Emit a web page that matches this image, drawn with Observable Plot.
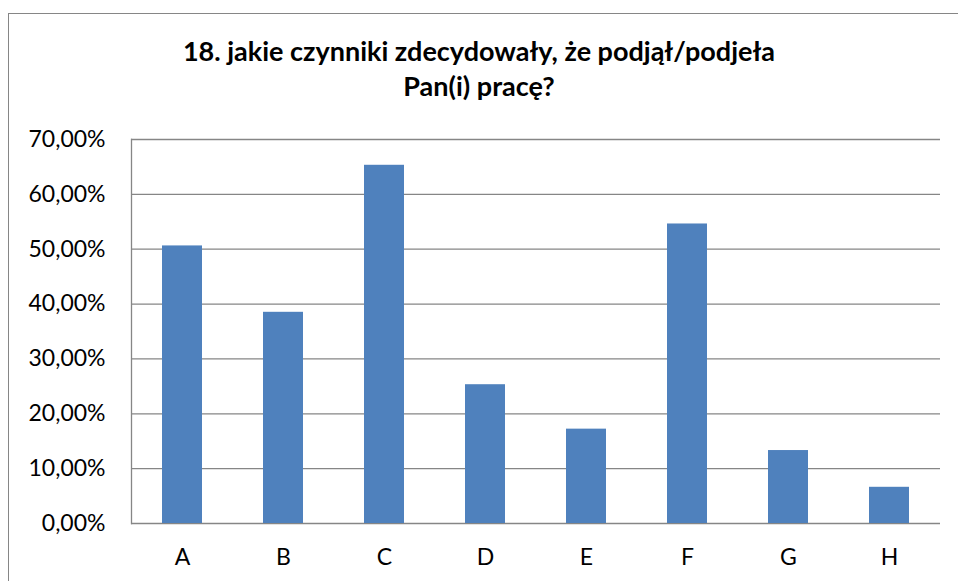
<!DOCTYPE html>
<html>
<head>
<meta charset="utf-8">
<script src="https://cdn.jsdelivr.net/npm/d3@7"></script>
<script src="https://cdn.jsdelivr.net/npm/@observablehq/plot@0.6"></script>
<style>
  html, body { margin: 0; padding: 0; background: #fff; overflow: hidden; }
  #wrap { position: relative; width: 958px; height: 581px; overflow: hidden; }
  #frame { position: absolute; left: 8px; top: 13px; width: 1200px; height: 1200px; border: 1px solid #868686; box-sizing: border-box; }
  #title { position: absolute; left: 0; top: 33px; width: 958px; text-align: center; font-family: Lato, sans-serif; font-weight: bold; font-size: 27px; line-height: 35px; color: #000; }
  #chart { position: absolute; left: 0; top: 120px; }
</style>
</head>
<body>
<div id="wrap">
  <div id="frame"></div>
  <div id="title">18. jakie czynniki zdecydowały, że podjął/podjeła<br>Pan(i) pracę?</div>
  <div id="chart"></div>
</div>
<script>
const categories = ["A", "B", "C", "D", "E", "F", "G", "H"];
const values = [50.6, 38.5, 65.3, 25.3, 17.2, 54.6, 13.3, 6.6];
const yTicks = [0, 10, 20, 30, 40, 50, 60, 70];

const data = categories.map((c, i) => ({category: c, value: values[i]}));
const fmt = d => d.toFixed(2).replace(".", ",") + "%";

const chart = Plot.plot({
  width: 958,
  height: 461,
  marginTop: 19,
  marginBottom: 58,
  marginLeft: 131,
  marginRight: 18,
  style: {fontFamily: "Lato, sans-serif", fontSize: "23px", color: "#000", background: "transparent"},
  x: {domain: categories, paddingInner: 0.6, paddingOuter: 0.3, label: null},
  y: {domain: [0, 70], label: null},
  marks: [
    Plot.gridY(yTicks, {stroke: "#868686", strokeOpacity: 1, strokeWidth: 1.3}),
    Plot.frame({anchor: "left", stroke: "#868686", strokeWidth: 1.3}),
    Plot.barY(data, {x: "category", y: "value", fill: "#4F81BD"}),
    Plot.axisY(yTicks, {tickSize: 0, tickPadding: 26, tickFormat: fmt, label: null}),
    Plot.axisX({tickSize: 0, tickPadding: 25, label: null})
  ]
});
document.getElementById("chart").appendChild(chart);
</script>
</body>
</html>
